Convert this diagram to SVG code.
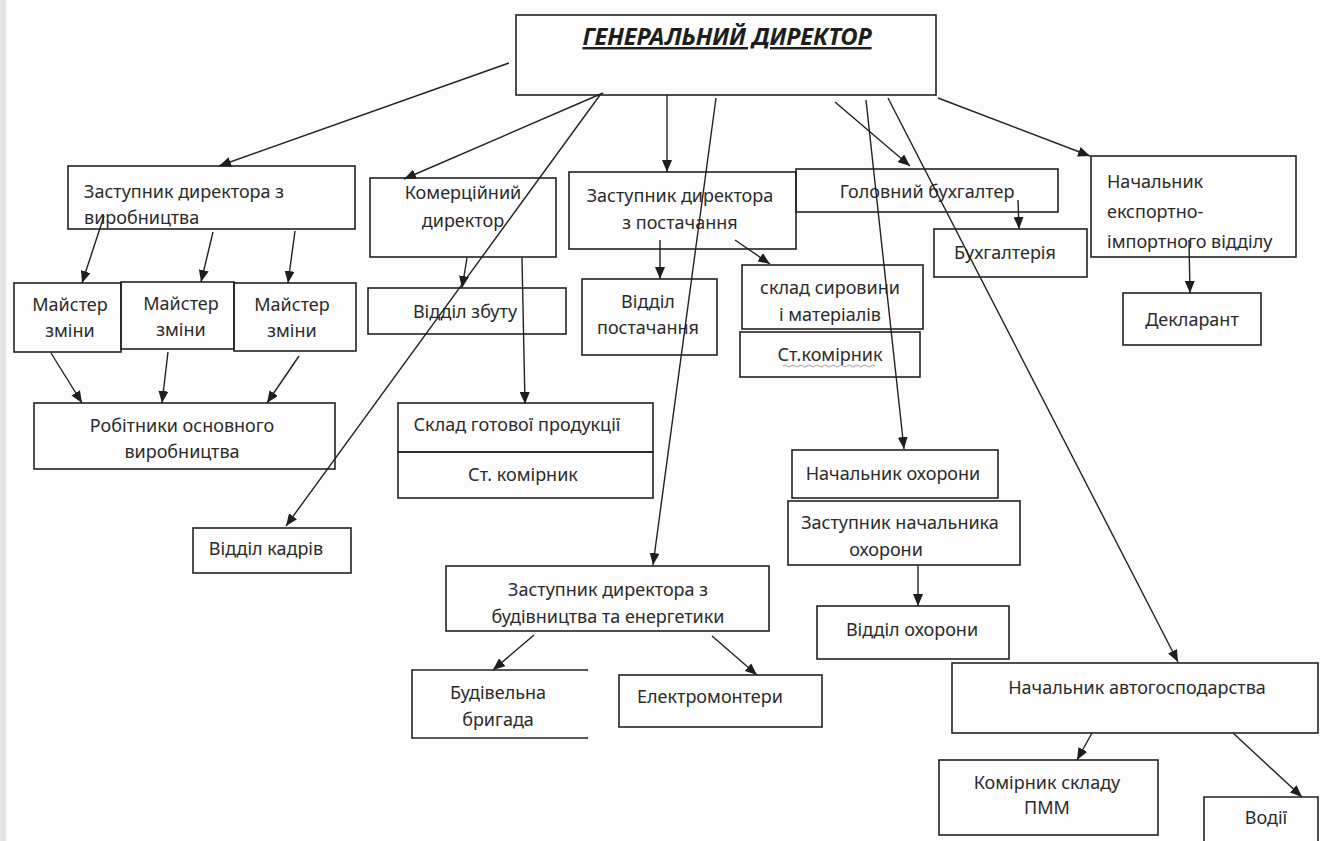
<svg xmlns="http://www.w3.org/2000/svg" width="1321" height="841" viewBox="0 0 1321 841">
<style>
.bx{fill:none;stroke:#222;stroke-width:1.6}
.t{font-family:"Noto Sans","Open Sans",sans-serif;font-size:18px;fill:#2b2b2b;text-anchor:middle}
.l{text-anchor:start}
.c{fill:none;stroke:#222;stroke-width:1.4}
.title{font-family:"Noto Sans","Open Sans",sans-serif;font-size:24px;font-weight:bold;font-style:italic;fill:#1e1e1e;text-anchor:middle;text-decoration:underline}
</style>
<defs>
<marker id="ah" markerUnits="userSpaceOnUse" markerWidth="12" markerHeight="10" viewBox="0 0 12 10" refX="12" refY="5" orient="auto">
<path d="M0,0 L12,5 L0,10 Z" fill="#1e1e1e"/>
</marker>
</defs>
<rect x="0" y="0" width="1321" height="841" fill="#fdfdfd"/>
<rect x="0" y="0" width="6" height="841" fill="#e6e6e6"/>

<g id="gen-director">
<rect class="bx" x="516" y="15" width="420" height="80"/>
<text class="title" x="727" y="45">ГЕНЕРАЛЬНИЙ ДИРЕКТОР</text>
</g>

<g id="zd-vyrobnytstva">
<rect class="bx" x="68" y="166" width="287" height="63"/>
<text class="t l" x="84" y="198">Заступник директора з</text>
<text class="t l" x="84" y="224">виробництва</text>
</g>

<g id="komertsiinyi">
<rect class="bx" x="370" y="178" width="186" height="79"/>
<text class="t" x="463" y="199">Комерційний</text>
<text class="t" x="463" y="227">директор</text>
</g>

<g id="zd-postachannia">
<rect class="bx" x="569" y="172" width="227" height="77"/>
<text class="t" x="680" y="202">Заступник директора</text>
<text class="t" x="680" y="229">з постачання</text>
</g>

<g id="gol-bukhgalter">
<rect class="bx" x="796" y="169" width="262" height="43"/>
<text class="t" x="927" y="198">Головний бухгалтер</text>
</g>

<g id="bukhgalteriia">
<rect class="bx" x="934" y="229" width="153" height="48"/>
<text class="t" x="1005" y="259">Бухгалтерія</text>
</g>

<g id="nach-eksport">
<rect class="bx" x="1091" y="156" width="205" height="101"/>
<text class="t l" x="1107" y="188">Начальник</text>
<text class="t l" x="1107" y="218">експортно-</text>
<text class="t l" x="1107" y="248">імпортного відділу</text>
</g>

<g id="deklarant">
<rect class="bx" x="1123" y="293" width="138" height="52"/>
<text class="t" x="1192" y="326">Декларант</text>
</g>

<g id="maister-1">
<rect class="bx" x="14" y="283" width="107" height="69"/>
<text class="t" x="70" y="311">Майстер</text>
<text class="t" x="70" y="337">зміни</text>
</g>
<g id="maister-2">
<rect class="bx" x="121" y="282" width="113" height="67"/>
<text class="t" x="181" y="310">Майстер</text>
<text class="t" x="181" y="336">зміни</text>
</g>
<g id="maister-3">
<rect class="bx" x="234" y="283" width="122" height="68"/>
<text class="t" x="292" y="311">Майстер</text>
<text class="t" x="292" y="337">зміни</text>
</g>

<g id="robitnyky">
<rect class="bx" x="34" y="403" width="301" height="66"/>
<text class="t" x="182" y="432">Робітники основного</text>
<text class="t" x="182" y="458">виробництва</text>
</g>

<g id="viddil-zbutu">
<rect class="bx" x="368" y="288" width="198" height="46"/>
<text class="t" x="465" y="318">Відділ збуту</text>
</g>

<g id="sklad-hotovoi">
<rect class="bx" x="398" y="403" width="255" height="49"/>
<text class="t" x="517" y="431">Склад готової продукції</text>
<rect class="bx" x="398" y="452" width="255" height="46"/>
<text class="t" x="523" y="481">Ст. комірник</text>
</g>

<g id="viddil-kadriv">
<rect class="bx" x="193" y="528" width="158" height="45"/>
<text class="t" x="266" y="555">Відділ кадрів</text>
</g>

<g id="viddil-postachannia">
<rect class="bx" x="582" y="279" width="135" height="76"/>
<text class="t" x="648" y="308">Відділ</text>
<text class="t" x="648" y="334">постачання</text>
</g>

<g id="sklad-syrovyny">
<rect class="bx" x="742" y="265" width="181" height="64"/>
<text class="t" x="830" y="294">склад сировини</text>
<text class="t" x="830" y="321">і матеріалів</text>
<rect class="bx" x="740" y="332" width="180" height="45"/>
<text class="t" x="830" y="361">Ст.комірник</text>
<path d="M783,366 q2,-2 4,0 t4,0 t4,0 t4,0 t4,0 t4,0 t4,0 t4,0 t4,0 t4,0 t4,0 t4,0 t4,0 t4,0 t4,0 t4,0 t4,0 t4,0 t4,0 t4,0 t4,0 t4,0 t4,0" fill="none" stroke="#999" stroke-width="0.9"/>
</g>

<g id="nach-okhorony">
<rect class="bx" x="792" y="450" width="206" height="48"/>
<text class="t" x="893" y="480">Начальник охорони</text>
</g>

<g id="zast-nach-okhorony">
<rect class="bx" x="788" y="501" width="232" height="64"/>
<text class="t" x="900" y="529">Заступник начальника</text>
<text class="t" x="886" y="556">охорони</text>
</g>

<g id="viddil-okhorony">
<rect class="bx" x="817" y="606" width="192" height="53"/>
<text class="t" x="912" y="636">Відділ охорони</text>
</g>

<g id="zd-budivnytstva">
<rect class="bx" x="446" y="566" width="323" height="65"/>
<text class="t" x="608" y="596">Заступник директора з</text>
<text class="t" x="608" y="623">будівництва та енергетики</text>
</g>

<g id="budivelna-bryhada">
<path class="bx" d="M588,670 H412 V738 H588"/>
<text class="t" x="498" y="699">Будівельна</text>
<text class="t" x="498" y="726">бригада</text>
</g>

<g id="elektromontery">
<rect class="bx" x="619" y="675" width="203" height="52"/>
<text class="t l" x="637" y="703">Електромонтери</text>
</g>

<g id="nach-avto">
<rect class="bx" x="952" y="663" width="366" height="70"/>
<text class="t" x="1137" y="694">Начальник автогосподарства</text>
</g>

<g id="komirnyk-pmm">
<rect class="bx" x="939" y="760" width="219" height="75"/>
<text class="t" x="1047" y="789">Комірник складу</text>
<text class="t" x="1047" y="814">ПММ</text>
</g>

<g id="vodii">
<path class="bx" d="M1204,845 V797 H1318 V845"/>
<text class="t" x="1266" y="824">Водії</text>
</g>

<g id="connectors">
<line class="c" x1="509" y1="63" x2="219" y2="166" marker-end="url(#ah)"/>
<line class="c" x1="603" y1="93" x2="404" y2="179" marker-end="url(#ah)"/>
<line class="c" x1="600" y1="95" x2="286" y2="526" marker-end="url(#ah)"/>
<line class="c" x1="667" y1="95" x2="667" y2="172" marker-end="url(#ah)"/>
<line class="c" x1="716" y1="98" x2="653" y2="565" marker-end="url(#ah)"/>
<line class="c" x1="835" y1="102" x2="910" y2="166" marker-end="url(#ah)"/>
<line class="c" x1="866" y1="100" x2="904" y2="449" marker-end="url(#ah)"/>
<line class="c" x1="888" y1="98" x2="1178" y2="662" marker-end="url(#ah)"/>
<line class="c" x1="938" y1="98" x2="1090" y2="156" marker-end="url(#ah)"/>
<line class="c" x1="104" y1="216" x2="82" y2="283" marker-end="url(#ah)"/>
<line class="c" x1="213" y1="232" x2="201" y2="282" marker-end="url(#ah)"/>
<line class="c" x1="295" y1="231" x2="288" y2="283" marker-end="url(#ah)"/>
<line class="c" x1="51" y1="353" x2="82" y2="403" marker-end="url(#ah)"/>
<line class="c" x1="168" y1="352" x2="162" y2="403" marker-end="url(#ah)"/>
<line class="c" x1="299" y1="356" x2="267" y2="403" marker-end="url(#ah)"/>
<line class="c" x1="467" y1="258" x2="462" y2="288" marker-end="url(#ah)"/>
<line class="c" x1="522" y1="258" x2="525" y2="404" marker-end="url(#ah)"/>
<line class="c" x1="660" y1="240" x2="660" y2="279" marker-end="url(#ah)"/>
<line class="c" x1="735" y1="240" x2="770" y2="264" marker-end="url(#ah)"/>
<line class="c" x1="1018" y1="200" x2="1019" y2="229" marker-end="url(#ah)"/>
<line class="c" x1="1189" y1="240" x2="1190" y2="293" marker-end="url(#ah)"/>
<line class="c" x1="918" y1="565" x2="918" y2="606" marker-end="url(#ah)"/>
<line class="c" x1="534" y1="635" x2="493" y2="670" marker-end="url(#ah)"/>
<line class="c" x1="712" y1="636" x2="757" y2="675" marker-end="url(#ah)"/>
<line class="c" x1="1092" y1="733" x2="1077" y2="760" marker-end="url(#ah)"/>
<line class="c" x1="1233" y1="733" x2="1302" y2="797" marker-end="url(#ah)"/>
</g>
</svg>
